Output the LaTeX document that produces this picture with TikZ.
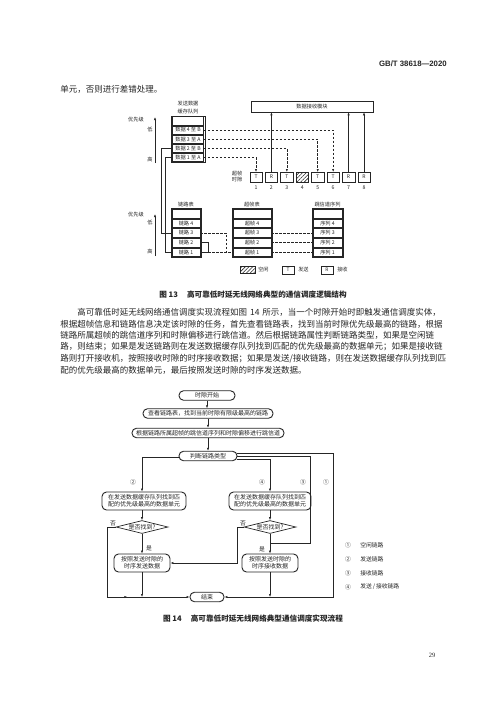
\documentclass[tikz,border=0pt]{standalone}
\usepackage{fontspec}
\setmainfont{Liberation Serif}
\setsansfont{Liberation Sans}
\newfontfamily\cjk{Noto Sans CJK SC}
\usetikzlibrary{patterns,patterns.meta,arrows.meta,shapes.geometric,decorations.markings}
\newcommand\myfs[1]{\fontsize{#1}{#1}\selectfont}
\newcommand\myfsx[2]{\fontsize{#1}{#2}\selectfont}
\begin{document}
\begin{tikzpicture}[x=1pt,y=-1pt,line width=0.5pt,color=black!85,
  txt/.style={inner sep=0pt,font=\cjk\myfs{5.2}},
  rowbox/.style={draw,inner sep=0pt,minimum height=8.2pt,font=\cjk\myfs{5.2}},
  slotbox/.style={draw,inner sep=0pt,minimum width=12.5pt,minimum height=9.5pt,font=\cjk\myfs{5}},
  hatch/.style={pattern={Lines[angle=45,distance=2.6pt,line width=0.55pt]},pattern color=black!85},
  fcbox/.style={draw,line width=0.9pt,rounded corners=4.5pt,inner sep=1.2pt,minimum height=9.5pt,font=\cjk\myfsx{6}{7.4},align=center},
  fcdia/.style={draw,line width=0.7pt,diamond,aspect=4,inner sep=0.3pt,minimum width=44pt,minimum height=11.5pt,font=\cjk\myfs{6}},
  arr/.style={-{Latex[length=3pt,width=2.2pt]}},
  dsh/.style={dash pattern=on 2.5pt off 1.5pt},
  midarr/.style={postaction={decorate},decoration={markings,mark=at position #1 with {\arrow{Latex[length=3pt,width=2.2pt]}}}},
  pline/.style={anchor=west,inner sep=0pt,text width=387pt,font=\cjk\myfs{8.5}},
  lab/.style={inner sep=0pt,font=\cjk\myfs{5.8}}]
\useasboundingbox (0,0) rectangle (500,707);
\fill[white] (0,0) rectangle (500,707);

% header
\node[anchor=east,inner sep=0pt,font=\sffamily\bfseries\myfs{7.8}] (hdr) at (447,64) {GB/T 38618—2020};
\node[anchor=west,inner sep=0pt,font=\cjk\myfs{8.5}] (l0) at (60,89) {单元，否则进行差错处理。};

% ===== Figure 13 =====
\node[txt] (qt1) at (188,103.5) {发送数据};
\node[txt] (qt2) at (188,112) {缓存队列};
\draw (171,115.8) rectangle (205,162.4);
\node[rowbox,minimum width=31pt] (q0) at (188,120.8) {};
\node[rowbox,minimum width=31pt] (q4) at (188,130) {数据 4 至 B};
\node[rowbox,minimum width=31pt] (q3) at (188,139.2) {数据 3 至 A};
\node[rowbox,minimum width=31pt] (q2) at (188,148.4) {数据 2 至 B};
\node[rowbox,minimum width=31pt] (q1) at (188,157.6) {数据 1 至 A};

\node[txt] (pr1) at (136,120) {优先级};
\node[txt] (lo1) at (150,130) {低};
\node[txt] (hi1) at (150,160) {高};
\coordinate (pa1) at (155,163);
\coordinate (pb1) at (155,117);
\draw[arr] (pa1) -- (pb1);

\node[draw,minimum width=122pt,minimum height=11pt,inner sep=0pt,font=\cjk\myfs{5.2}] (mod) at (312,106.5) {数据接收模块};

\node[txt,align=center] (sfl) at (237,176.5) {超帧\\[1pt]时隙};
\foreach \i/\t in {1/T,2/R,3/T,5/T,6/T,7/R,8/R}{
  \node[slotbox] (s\i) at ({256+(\i-1)*15.43},177) {\t};
}
\node[slotbox,hatch] (s4) at ({256+3*15.43},177) {};
\foreach \i in {1,...,8}{
  \node[txt] (n\i) at ({256+(\i-1)*15.43},188) {\i};
}
\draw[dsh,arr] (q4.east) -| (s6.north);
\draw[dsh,arr] (q3.east) -| (s5.north);
\draw[dsh,arr] (q2.east) -| (s3.north);
\draw[dsh,arr] (q1.east) -| (s1.north);
\draw[arr] (s2.north) -- (s2.north |- mod.south);
\draw[arr] (s7.north) -- (s7.north |- mod.south);
\draw[arr] (s8.north) -- (s8.north |- mod.south);

% tables
\node[txt] (lt) at (186,205) {链路表};
\node[txt] (ft) at (252,205) {超帧表};
\node[txt] (ht) at (327.5,205) {跳信道序列};
\draw (171,208.7) rectangle (201,257);
\draw (232,208.7) rectangle (272,257);
\draw (312,208.7) rectangle (343,257);
\foreach \k/\y in {0/213.5,4/223.2,3/232.9,2/242.6,1/252.3}{
  \ifnum\k=0
    \node[rowbox,minimum width=27.5pt,minimum height=8.7pt] (l\k) at (186,\y) {};
    \node[rowbox,minimum width=37.5pt,minimum height=8.7pt] (f\k) at (252,\y) {};
    \node[rowbox,minimum width=28.5pt,minimum height=8.7pt] (h\k) at (327.5,\y) {};
  \else
    \node[rowbox,minimum width=27.5pt,minimum height=8.7pt] (l\k) at (186,\y) {链路 \k};
    \node[rowbox,minimum width=37.5pt,minimum height=8.7pt] (f\k) at (252,\y) {超帧 \k};
    \node[rowbox,minimum width=28.5pt,minimum height=8.7pt] (h\k) at (327.5,\y) {序列 \k};
  \fi
}
\node[txt] (pr2) at (136,215) {优先级};
\node[txt] (lo2) at (150,223) {低};
\node[txt] (hi2) at (150,252) {高};
\coordinate (pa2) at (155,256);
\coordinate (pb2) at (155,214);
\draw[arr] (pa2) -- (pb2);

% queue -> link table
\draw (q2.west) -- (161,148.4) |- (l3.west);
\draw (q1.west) -- (165.5,157.6) |- (l1.west);
% link -> superframe
\coordinate (br) at (208,252.3);
\draw (l2.east) -| (br) -- (l1.east);
\draw[dsh] (l3.east) -- (226,232.9) -- (226,252.3);
\draw[dsh] (br) -- (f1.west);
% superframe -> hop
\draw[dsh] (f3.east) -- (h3.west);
\draw[dsh] (f2.east) -- (h2.west);
\draw[dsh] (f1.east) -- (h1.west);

% legend
\node[draw,hatch,minimum width=15pt,minimum height=7pt,inner sep=0pt] (lg1) at (247.5,270) {};
\node[txt,anchor=west] (lg1t) at (258,270) {空闲};
\node[draw,minimum width=12pt,minimum height=7.5pt,inner sep=0pt,font=\cjk\myfs{4.8}] (lg2) at (288,270) {T};
\node[txt,anchor=west] (lg2t) at (298,270) {发送};
\node[draw,minimum width=12pt,minimum height=7.5pt,inner sep=0pt,font=\cjk\myfs{4.8}] (lg3) at (327,270) {R};
\node[txt,anchor=west] (lg3t) at (337,270) {接收};

\node[inner sep=0pt,font=\cjk\bfseries\myfs{7.6}] (cap13) at (253,295) {图 13\hspace{1.2em}高可靠低时延无线网络典型的通信调度逻辑结构};

% paragraph
\node[pline] (p1) at (60,312.5) {\XeTeXlinebreaklocale "zh"\XeTeXlinebreakskip=0pt plus 3pt\parfillskip=0pt\relax\noindent\hspace*{17pt}高可靠低时延无线网络通信调度实现流程如图 14 所示，当一个时隙开始时即触发通信调度实体，};
\node[pline] (p2) at (60,324) {\XeTeXlinebreaklocale "zh"\XeTeXlinebreakskip=0pt plus 3pt\parfillskip=0pt\relax\noindent 根据超帧信息和链路信息决定该时隙的任务，首先查看链路表，找到当前时隙优先级最高的链路，根据};
\node[pline] (p3) at (60,335.5) {\XeTeXlinebreaklocale "zh"\XeTeXlinebreakskip=0pt plus 3pt\parfillskip=0pt\relax\noindent 链路所属超帧的跳信道序列和时隙偏移进行跳信道。然后根据链路属性判断链路类型，如果是空闲链};
\node[pline] (p4) at (60,347) {\XeTeXlinebreaklocale "zh"\XeTeXlinebreakskip=0pt plus 3pt\parfillskip=0pt\relax\noindent 路，则结束；如果是发送链路则在发送数据缓存队列找到匹配的优先级最高的数据单元；如果是接收链};
\node[pline] (p5) at (60,358.5) {\XeTeXlinebreaklocale "zh"\XeTeXlinebreakskip=0pt plus 3pt\parfillskip=0pt\relax\noindent 路则打开接收机，按照接收时隙的时序接收数据；如果是发送/接收链路，则在发送数据缓存队列找到匹};
\node[pline] (p6) at (60,370) {\noindent 配的优先级最高的数据单元，最后按照发送时隙的时序发送数据。};

% ===== Figure 14 =====
\node[fcbox,minimum width=56pt] (start) at (207,395.5) {时隙开始};
\node[fcbox,minimum width=130pt] (look) at (208,413.5) {查看链路表，找到当前时隙有限级最高的链路};
\node[fcbox,minimum width=152pt] (hop) at (208,433) {根据链路所属超帧的跳信道序列和时隙偏移进行跳信道};
\node[fcbox,minimum width=58pt] (judge) at (208,456) {判断链路类型};
\draw[arr] (start) -- (start |- look.north);
\draw[arr] (look) -- (hop);
\draw[arr] (hop) -- (judge);

\node[fcbox,minimum width=84pt,minimum height=18pt] (lbox) at (144,501) {在发送数据缓存队列找到匹\\配的优先级最高的数据单元};
\node[fcbox,minimum width=82pt,minimum height=18pt] (rbox) at (270,501) {在发送数据缓存队列找到匹\\配的优先级最高的数据单元};
\node[fcdia] (ldia) at (142,527) {是否找到?};
\node[fcdia] (rdia) at (270,527) {是否找到?};
\node[fcbox,minimum width=56pt,minimum height=18pt] (lbot) at (142,563) {按照发送时隙的\\时序发送数据};
\node[fcbox,minimum width=56pt,minimum height=18pt] (rbot) at (270,563) {按照发送时隙的\\时序接收数据};
\node[fcbox,minimum width=34pt] (end) at (207,597) {结束};

% branches
\coordinate (c2) at (142,457.5);
\draw[arr] (judge.west |- c2) -| (lbox.north -| c2);
\draw[arr] (judge.east |- 0,459) -| (rbox.north);
\coordinate (c3) at (310,543);
\draw (judge.east |- 0,456) -| (c3) -- (rbox.south |- c3);
\coordinate (c1) at (333,597);
\draw[arr] (judge.east |- 0,453) -| (c1) -- (end.east);

\node[lab] (m2) at (133,482) {②};
\node[lab] (m4) at (262,482) {④};
\node[lab] (m3) at (303,482) {③};
\node[lab] (m1) at (326,482) {①};

\draw[arr] (lbox.south -| ldia.north) -- (ldia.north);
\draw[arr] (rbox.south) -- (rdia.north);
\draw[arr] (ldia.south) -- (lbot.north);
\draw[arr] (rdia.south) -- (rbot.north);
\node[lab] (y1) at (149,548) {是};
\node[lab] (y2) at (262,549) {是};
\node[lab] (no1) at (113,523) {否};
\node[lab] (no2) at (243,523) {否};

\coordinate (c5) at (107,597);
\draw[arr,midarr=99pt] (ldia.west) -| (c5) -- (end.west);
\coordinate (c6) at (237,563);
\draw[arr] (rdia.west) -| (c6) -- (lbot.east);
\draw[arr] (lbot.south) -- (lbot.south |- end.west);
\draw[arr] (rbot.south) -- (rbot.south |- end.east);

% legend
\foreach \n/\t/\y in {①/{空闲链路}/545,②/{发送链路}/559,③/{接收链路}/573,④/{发送\,/\,接收链路}/587}{
  \node[lab] at (348,\y) {\n};
  \node[lab,anchor=west] at (360,\y) {\t};
}

\node[inner sep=0pt,font=\cjk\bfseries\myfs{7.6}] (cap14) at (253,619) {图 14\hspace{1.2em}高可靠低时延无线网络典型通信调度实现流程};
\node[inner sep=0pt,font=\myfs{6.5}] (pg) at (432,655) {29};
\end{tikzpicture}
\end{document}
